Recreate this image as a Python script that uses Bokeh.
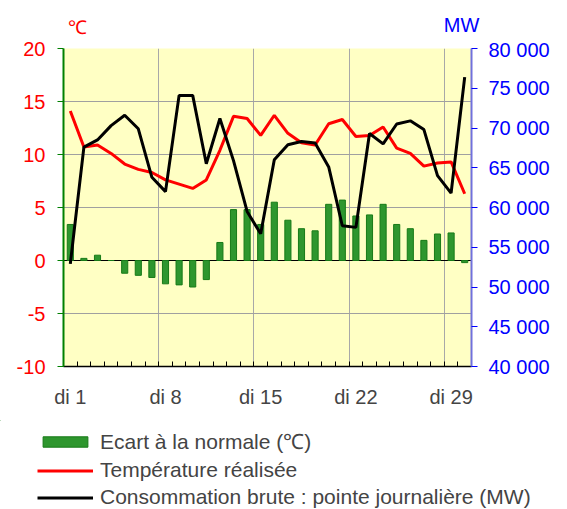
from bokeh.plotting import figure
from bokeh.models import Range1d, LinearAxis, FixedTicker, Legend, LegendItem, Label, Span
from bokeh.layouts import column
from bokeh.embed import file_html
from bokeh.resources import INLINE

days = list(range(1, 31))
ecart = [3.4, 0.2, 0.5, 0.0, -1.2, -1.4, -1.6, -2.2, -2.3, -2.5, -1.8, 1.7, 4.8, 4.8, 3.4,
         5.5, 3.8, 3.0, 2.8, 5.3, 5.7, 4.2, 4.3, 5.3, 3.4, 3.0, 1.9, 2.5, 2.6, -0.2]
temp = [14.1, 10.7, 10.9, 10.1, 9.1, 8.6, 8.3, 7.6, 7.2, 6.8, 7.6, 10.4, 13.6, 13.4, 11.8,
        13.7, 12.0, 11.1, 10.9, 12.9, 13.3, 11.7, 11.8, 12.6, 10.6, 10.1, 8.9, 9.2, 9.3, 6.3]
conso = [52900, 67600, 68500, 70300, 71600, 69900, 63800, 62000, 74100, 74100, 65500, 71200,
         65900, 59500, 56700, 66000, 67900, 68300, 68100, 65100, 57700, 57500, 69300, 68000,
         70500, 70900, 69800, 64000, 61800, 76400]
temp_ticks = [-10, -5, 0, 5, 10, 15, 20]
mw_ticks = [40000, 45000, 50000, 55000, 60000, 65000, 70000, 75000, 80000]
day_ticks = [1, 8, 15, 22, 29]
day_labels = ["di 1", "di 8", "di 15", "di 22", "di 29"]
legend_labels = ["Ecart à la normale (℃)", "Température réalisée",
                 "Consommation brute : pointe journalière (MW)"]

FONT = "Liberation Sans"
W = 559
BAR_FILL = "#2E962E"
BAR_LINE = "#177A17"


def bare_fig(h):
    f = figure(width=W, height=h, x_range=Range1d(0, W), y_range=Range1d(h, 0),
               output_backend="svg", toolbar_location=None,
               x_axis_type=None, y_axis_type=None,
               min_border=0, min_border_left=0, min_border_right=0,
               min_border_top=0, min_border_bottom=0)
    f.frame_align = False
    f.outline_line_color = None
    f.grid.visible = False
    f.background_fill_color = "white"
    f.border_fill_color = "white"
    return f


# header with unit labels
head = bare_fig(38)
head.add_layout(Label(x=77, y=27, text="℃", text_color="red", text_font=FONT, text_font_size="19px",
                      text_align="center", text_baseline="middle"))
head.add_layout(Label(x=461, y=24, text="MW", text_color="blue", text_font=FONT, text_font_size="20px",
                      text_align="center", text_baseline="middle"))

# main chart
p = figure(width=W, height=382, x_range=Range1d(0.5, 30.5), y_range=Range1d(-10, 20),
           output_backend="svg", toolbar_location=None,
           min_border_left=63, min_border_right=88, min_border_top=10, min_border_bottom=54)
p.frame_align = False
p.extra_y_ranges = {"mw": Range1d(40000, 80000)}
p.background_fill_color = "#FFFFC4"
p.border_fill_color = "white"
p.outline_line_color = None

p.ygrid.ticker = FixedTicker(ticks=temp_ticks)
p.ygrid.grid_line_color = "#A0A0A0"
p.ygrid.grid_line_width = 1
p.xgrid.ticker = FixedTicker(ticks=[7.5, 14.5, 21.5, 28.5])
p.xgrid.grid_line_color = "#A8A8A8"
p.xgrid.grid_line_width = 1

ya = p.yaxis[0]
ya.ticker = FixedTicker(ticks=temp_ticks)
ya.major_label_overrides = {t: str(t) for t in temp_ticks}
ya.axis_line_color = "green"
ya.axis_line_width = 2
ya.major_tick_line_color = "green"
ya.major_tick_out = 6
ya.major_tick_in = 0
ya.minor_tick_line_color = None
ya.major_label_text_color = "red"
ya.major_label_text_font = FONT
ya.major_label_text_font_size = "20px"
ya.major_label_standoff = 12

ra = LinearAxis(y_range_name="mw", ticker=FixedTicker(ticks=mw_ticks))
ra.major_label_overrides = {t: f"{t // 1000} {t % 1000:03d}" for t in mw_ticks}
ra.axis_line_color = "#7070DD"
ra.axis_line_width = 2
ra.major_tick_line_color = "blue"
ra.major_tick_out = 6
ra.major_tick_in = 0
ra.minor_tick_line_color = None
ra.major_label_text_color = "blue"
ra.major_label_text_font = FONT
ra.major_label_text_font_size = "20px"
ra.major_label_standoff = 11
p.add_layout(ra, "right")

xa = p.xaxis[0]
xa.ticker = FixedTicker(ticks=day_ticks, minor_ticks=[0.5 + i for i in range(31)])
xa.major_label_overrides = dict(zip(day_ticks, day_labels))
xa.axis_line_color = "black"
xa.axis_line_width = 1.5
xa.major_tick_line_color = None
xa.major_tick_out = 0
xa.major_tick_in = 0
xa.minor_tick_line_color = "black"
xa.minor_tick_in = 5
xa.minor_tick_out = 0
xa.major_label_text_font = FONT
xa.major_label_text_font_size = "20px"
xa.major_label_standoff = 19

p.add_layout(Span(location=0, dimension="width", line_color="black", line_width=1, level="underlay"))

p.vbar(x=days, top=ecart, bottom=0, width=0.45, fill_color=BAR_FILL, line_color=BAR_LINE, line_width=1)
p.line(days, temp, line_color="red", line_width=3)
p.line(days, conso, y_range_name="mw", line_color="black", line_width=3)

# legend strip
leg = bare_fig(89)
r_bar = leg.vbar(x=[-100], top=[-100], bottom=[-110], width=1, fill_color=BAR_FILL, line_color=BAR_LINE, line_width=1)
r_red = leg.line([-100, -90], [-100, -100], line_color="red", line_width=3)
r_blk = leg.line([-100, -90], [-100, -100], line_color="black", line_width=3)
legend = Legend(items=[LegendItem(label=legend_labels[0], renderers=[r_bar]),
                       LegendItem(label=legend_labels[1], renderers=[r_red]),
                       LegendItem(label=legend_labels[2], renderers=[r_blk])],
                location=(37, 0))
legend.background_fill_alpha = 0
legend.border_line_color = None
legend.padding = 0
legend.margin = 0
legend.spacing = 3
legend.glyph_width = 56
legend.glyph_height = 13
legend.label_height = 24
legend.label_standoff = 7
legend.label_text_font = FONT
legend.label_text_font_size = "21px"
leg.add_layout(legend)

layout = column(head, p, leg, spacing=0)
open("out.html", "w").write(file_html(layout, INLINE))
